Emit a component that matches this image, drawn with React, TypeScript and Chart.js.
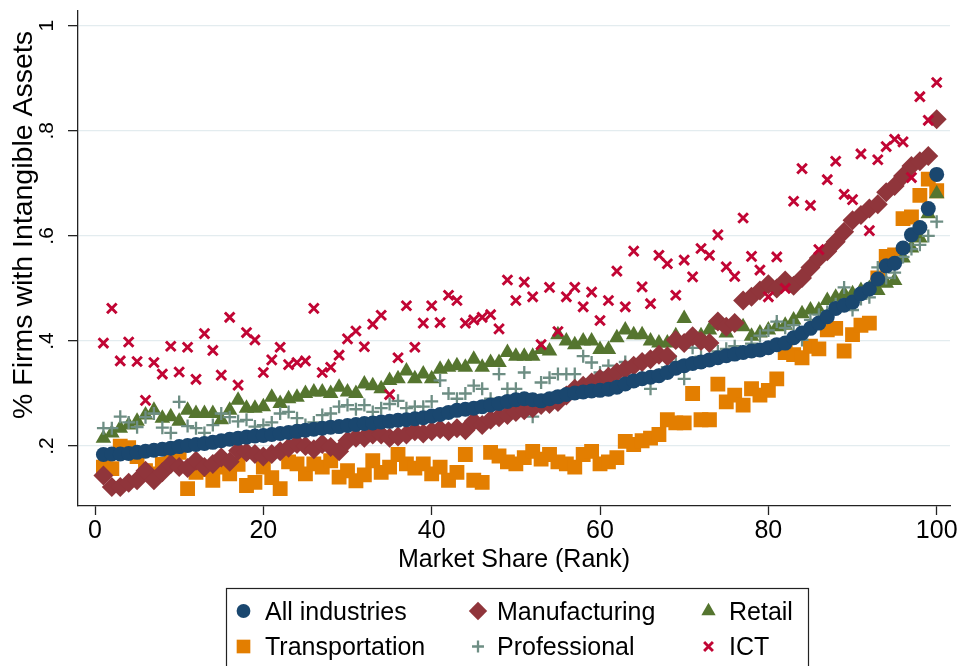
import React, { useEffect, useRef } from 'react';
import { Chart, registerables } from 'chart.js';

Chart.register(...registerables);

const FONT = '"Liberation Sans", Arial, Helvetica, sans-serif';

// ---- data -------------------------------------------------------------
const ranks = [
  1, 2, 3, 4, 5, 6, 7, 8, 9, 10, 11, 12, 13, 14, 15, 16, 17, 18, 19, 20,
  21, 22, 23, 24, 25, 26, 27, 28, 29, 30, 31, 32, 33, 34, 35, 36, 37, 38, 39, 40,
  41, 42, 43, 44, 45, 46, 47, 48, 49, 50, 51, 52, 53, 54, 55, 56, 57, 58, 59, 60,
  61, 62, 63, 64, 65, 66, 67, 68, 69, 70, 71, 72, 73, 74, 75, 76, 77, 78, 79, 80,
  81, 82, 83, 84, 85, 86, 87, 88, 89, 90, 91, 92, 93, 94, 95, 96, 97, 98, 99, 100,
];

const allIndustries = [
  0.184, 0.185, 0.185, 0.186, 0.188, 0.19, 0.192, 0.194, 0.196, 0.199,
  0.201, 0.203, 0.205, 0.207, 0.21, 0.213, 0.215, 0.217, 0.219, 0.22,
  0.222, 0.224, 0.226, 0.228, 0.23, 0.232, 0.234, 0.236, 0.237, 0.239,
  0.241, 0.243, 0.244, 0.246, 0.247, 0.249, 0.25, 0.252, 0.254, 0.257,
  0.26, 0.264, 0.268, 0.27, 0.272, 0.275, 0.278, 0.281, 0.285, 0.288,
  0.29, 0.288, 0.286, 0.29, 0.294, 0.298, 0.301, 0.303, 0.305, 0.306,
  0.308, 0.312, 0.318, 0.324, 0.328, 0.331, 0.334, 0.34, 0.348, 0.353,
  0.357, 0.36, 0.364, 0.368, 0.372, 0.375, 0.378, 0.381, 0.383, 0.387,
  0.393, 0.396, 0.406, 0.415, 0.424, 0.434, 0.446, 0.462, 0.468, 0.474,
  0.49, 0.499, 0.518, 0.543, 0.548, 0.577, 0.602, 0.616, 0.652, 0.717,
];

const manufacturing = [
  0.144, 0.122, 0.122, 0.13, 0.135, 0.153, 0.135, 0.15, 0.166, 0.16,
  0.158, 0.172, 0.16, 0.166, 0.178, 0.17, 0.191, 0.188, 0.185, 0.18,
  0.185, 0.19, 0.197, 0.204, 0.2, 0.194, 0.204, 0.198, 0.19, 0.21,
  0.216, 0.216, 0.222, 0.222, 0.216, 0.218, 0.222, 0.228, 0.224, 0.228,
  0.232, 0.228, 0.234, 0.23, 0.247, 0.24, 0.25, 0.255, 0.259, 0.265,
  0.268, 0.272, 0.278, 0.28, 0.284, 0.296, 0.309, 0.315, 0.321, 0.328,
  0.332, 0.34, 0.346, 0.353, 0.36, 0.365, 0.374, 0.371, 0.402, 0.396,
  0.409, 0.4, 0.396, 0.437, 0.427, 0.434, 0.477, 0.484, 0.496, 0.508,
  0.5, 0.515, 0.505, 0.52, 0.54, 0.558, 0.571, 0.589, 0.608, 0.63,
  0.64, 0.652, 0.66, 0.683, 0.695, 0.714, 0.733, 0.742, 0.752, 0.822,
];

const retail = [
  0.215, 0.225, 0.234, 0.24, 0.247, 0.259, 0.268, 0.253, 0.256, 0.247,
  0.268, 0.262, 0.262, 0.262, 0.25, 0.268, 0.287, 0.272, 0.272, 0.275,
  0.293, 0.281, 0.29, 0.293, 0.3, 0.303, 0.303, 0.3, 0.312, 0.303,
  0.3, 0.318, 0.315, 0.309, 0.325, 0.328, 0.343, 0.328, 0.337, 0.328,
  0.346, 0.35, 0.353, 0.35, 0.365, 0.35, 0.359, 0.359, 0.378, 0.371,
  0.371, 0.371, 0.384, 0.381, 0.412, 0.4, 0.393, 0.4, 0.4, 0.384,
  0.384, 0.406, 0.421, 0.412, 0.412, 0.4, 0.396, 0.396, 0.41, 0.443,
  0.402, 0.41, 0.421, 0.43, 0.415, 0.435, 0.427, 0.409, 0.415, 0.421,
  0.427, 0.43, 0.44, 0.452, 0.459, 0.459, 0.477, 0.483, 0.49, 0.49,
  0.496, 0.5, 0.496, 0.51, 0.515, 0.558, 0.577, 0.596, 0.642, 0.68,
];

const transportation = [
  0.16, 0.157, 0.2, 0.197, 0.18, 0.153, 0.147, 0.165, 0.172, 0.188,
  0.119, 0.15, 0.155, 0.135, 0.16, 0.147, 0.165, 0.125, 0.131, 0.16,
  0.14, 0.119, 0.17, 0.166, 0.147, 0.166, 0.16, 0.172, 0.141, 0.153,
  0.134, 0.145, 0.172, 0.15, 0.16, 0.184, 0.166, 0.158, 0.166, 0.147,
  0.16, 0.135, 0.15, 0.184, 0.135, 0.131, 0.188, 0.181, 0.17, 0.166,
  0.178, 0.19, 0.175, 0.184, 0.17, 0.166, 0.16, 0.184, 0.19, 0.166,
  0.17, 0.178, 0.209, 0.203, 0.21, 0.215, 0.222, 0.25, 0.244, 0.244,
  0.3, 0.25, 0.25, 0.318, 0.284, 0.297, 0.278, 0.309, 0.297, 0.306,
  0.328, 0.378, 0.374, 0.368, 0.39, 0.385, 0.421, 0.424, 0.381, 0.412,
  0.43, 0.434, 0.52, 0.561, 0.564, 0.633, 0.636, 0.677, 0.708, 0.686,
];

const professional = [
  0.234, 0.234, 0.256, 0.245, 0.236, 0.255, 0.262, 0.235, 0.225, 0.284,
  0.238, 0.234, 0.225, 0.24, 0.262, 0.255, 0.247, 0.25, 0.237, 0.24,
  0.245, 0.262, 0.265, 0.253, 0.24, 0.245, 0.259, 0.262, 0.275, 0.278,
  0.27, 0.278, 0.265, 0.272, 0.28, 0.286, 0.272, 0.275, 0.275, 0.285,
  0.325, 0.3, 0.29, 0.3, 0.315, 0.309, 0.29, 0.337, 0.309, 0.309,
  0.34, 0.256, 0.321, 0.33, 0.337, 0.337, 0.337, 0.371, 0.359, 0.34,
  0.353, 0.345, 0.36, 0.35, 0.33, 0.309, 0.335, 0.35, 0.36, 0.328,
  0.387, 0.37, 0.365, 0.38, 0.385, 0.39, 0.38, 0.395, 0.41, 0.42,
  0.437, 0.425, 0.43, 0.402, 0.44, 0.45, 0.455, 0.47, 0.502, 0.459,
  0.48, 0.483, 0.54, 0.52, 0.53, 0.56, 0.575, 0.583, 0.6, 0.627,
];

const ict = [
  0.396, 0.462, 0.362, 0.398, 0.361, 0.287, 0.359, 0.337, 0.39, 0.341,
  0.388, 0.327, 0.414, 0.382, 0.335, 0.445, 0.316, 0.416, 0.402, 0.34,
  0.364, 0.388, 0.355, 0.359, 0.362, 0.462, 0.34, 0.35, 0.373, 0.404,
  0.419, 0.389, 0.432, 0.449, 0.298, 0.368, 0.467, 0.388, 0.434, 0.467,
  0.435, 0.487, 0.477, 0.434, 0.44, 0.445, 0.45, 0.423, 0.516, 0.477,
  0.512, 0.484, 0.393, 0.502, 0.418, 0.484, 0.502, 0.465, 0.493, 0.439,
  0.477, 0.533, 0.465, 0.571, 0.503, 0.471, 0.563, 0.547, 0.487, 0.554,
  0.522, 0.576, 0.563, 0.602, 0.541, 0.523, 0.634, 0.561, 0.535, 0.484,
  0.56, 0.5, 0.666, 0.728, 0.658, 0.574, 0.707, 0.742, 0.679, 0.669,
  0.756, 0.61, 0.745, 0.77, 0.784, 0.779, 0.711, 0.865, 0.82, 0.892,
];

const xTicks = [0, 20, 40, 60, 80, 100];
const yTicks = [0.2, 0.4, 0.6, 0.8, 1];
const yTickLabels = ['.2', '.4', '.6', '.8', '1'];
const xTitle = 'Market Share (Rank)';
const yTitle = '% Firms with Intangible Assets';

// ---- styles -----------------------------------------------------------
type Series = {
  label: string;
  values: number[];
  color: string;
  pointStyle: string;
  radius: number;
  borderWidth: number;
  order: number;
};

const series: Series[] = [
  { label: 'All industries', values: allIndustries, color: '#1a476f', pointStyle: 'circle', radius: 7.5, borderWidth: 0, order: 1 },
  { label: 'Manufacturing', values: manufacturing, color: '#90353b', pointStyle: 'rectRot', radius: 10, borderWidth: 0, order: 2 },
  { label: 'Retail', values: retail, color: '#55752f', pointStyle: 'triangle', radius: 9, borderWidth: 0, order: 4 },
  { label: 'Transportation', values: transportation, color: '#e37e00', pointStyle: 'rect', radius: 10.5, borderWidth: 0, order: 5 },
  { label: 'Professional', values: professional, color: '#6e8e84', pointStyle: 'cross', radius: 6.5, borderWidth: 2.3, order: 3 },
  { label: 'ICT', values: ict, color: '#c10534', pointStyle: 'crossRot', radius: 6.8, borderWidth: 2.9, order: 0 },
];

const legendCols = [243.5, 478, 708.5];
const legendTextX = [265, 497, 729];
const legendRows = [611, 646.5];

function drawMarker(ctx: CanvasRenderingContext2D, s: Series, x: number, y: number) {
  ctx.save();
  ctx.fillStyle = s.color;
  ctx.strokeStyle = s.color;
  ctx.lineWidth = s.borderWidth;
  const r = s.radius * 0.92;
  ctx.beginPath();
  if (s.pointStyle === 'circle') {
    ctx.arc(x, y, r, 0, Math.PI * 2);
    ctx.fill();
  } else if (s.pointStyle === 'rectRot') {
    ctx.moveTo(x - r, y);
    ctx.lineTo(x, y - r);
    ctx.lineTo(x + r, y);
    ctx.lineTo(x, y + r);
    ctx.closePath();
    ctx.fill();
  } else if (s.pointStyle === 'triangle') {
    let a = 0;
    ctx.moveTo(x + Math.sin(a) * r, y - Math.cos(a) * r);
    a += (2 * Math.PI) / 3;
    ctx.lineTo(x + Math.sin(a) * r, y - Math.cos(a) * r);
    a += (2 * Math.PI) / 3;
    ctx.lineTo(x + Math.sin(a) * r, y - Math.cos(a) * r);
    ctx.closePath();
    ctx.fill();
  } else if (s.pointStyle === 'rect') {
    const h = Math.SQRT1_2 * r;
    ctx.rect(x - h, y - h, 2 * h, 2 * h);
    ctx.fill();
  } else if (s.pointStyle === 'cross') {
    ctx.moveTo(x - r, y);
    ctx.lineTo(x + r, y);
    ctx.moveTo(x, y - r);
    ctx.lineTo(x, y + r);
    ctx.stroke();
  } else if (s.pointStyle === 'crossRot') {
    const d = Math.SQRT1_2 * r;
    ctx.moveTo(x - d, y - d);
    ctx.lineTo(x + d, y + d);
    ctx.moveTo(x + d, y - d);
    ctx.lineTo(x - d, y + d);
    ctx.stroke();
  }
  ctx.restore();
}

const customDraw = {
  id: 'customDraw',
  afterDraw(chart: any) {
    const ctx: CanvasRenderingContext2D = chart.ctx;
    const yScale = chart.scales.y;
    ctx.save();
    ctx.fillStyle = '#000';
    ctx.textAlign = 'center';
    ctx.textBaseline = 'alphabetic';
    // rotated y tick labels
    ctx.font = `21px ${FONT}`;
    yTicks.forEach((v, i) => {
      const py = yScale.getPixelForValue(v);
      ctx.save();
      ctx.translate(53, py);
      ctx.rotate(-Math.PI / 2);
      ctx.fillText(yTickLabels[i], 0, 0);
      ctx.restore();
    });
    // y title
    ctx.font = `28.5px ${FONT}`;
    ctx.save();
    ctx.translate(32, 225);
    ctx.rotate(-Math.PI / 2);
    ctx.fillText(yTitle, 0, 0);
    ctx.restore();

    // legend box
    ctx.strokeStyle = '#222';
    ctx.lineWidth = 1.2;
    ctx.strokeRect(226.5, 588.5, 582, 100);
    ctx.font = `25px ${FONT}`;
    ctx.textAlign = 'left';
    ctx.textBaseline = 'alphabetic';
    series.forEach((s, i) => {
      const col = i % 3;
      const row = Math.floor(i / 3);
      drawMarker(ctx, s, legendCols[col], legendRows[row]);
      ctx.fillStyle = '#000';
      ctx.fillText(s.label, legendTextX[col], legendRows[row] + 8.8);
    });
    ctx.restore();
  },
};

export default function App() {
  const ref = useRef<HTMLCanvasElement | null>(null);

  useEffect(() => {
    if (!ref.current) return;
    Chart.defaults.font.family = FONT;
    const datasets = series.map((s) => ({
      label: s.label,
      data: ranks.map((r, i) => ({ x: r, y: s.values[i] })),
      pointStyle: s.pointStyle as any,
      pointRadius: s.radius,
      pointHoverRadius: s.radius,
      backgroundColor: s.color,
      borderColor: s.color,
      pointBorderWidth: s.borderWidth,
      borderWidth: s.borderWidth,
      order: s.order,
      showLine: false,
    }));

    const chart = new Chart(ref.current, {
      type: 'scatter',
      data: { datasets },
      options: {
        responsive: false,
        animation: false,
        events: [],
        layout: { padding: { left: 0, right: 12, top: 2, bottom: 0 } },
        plugins: {
          legend: { display: false },
          tooltip: { enabled: false },
        },
        scales: {
          x: {
            type: 'linear',
            min: -2.02,
            max: 101.58,
            afterBuildTicks: (s: any) => {
              s.ticks = xTicks.map((v) => ({ value: v }));
            },
            afterFit: (s: any) => {
              s.height = 160;
            },
            grid: {
              display: true,
              drawOnChartArea: false,
              drawTicks: true,
              tickLength: 9,
              tickColor: '#222',
              tickWidth: 1.3,
            },
            border: { display: true, color: '#222', width: 1.3 },
            ticks: {
              color: '#000',
              font: { family: FONT, size: 25 },
              padding: 1,
              maxRotation: 0,
              minRotation: 0,
              autoSkip: false,
            },
            title: {
              display: true,
              text: xTitle,
              color: '#000',
              font: { family: FONT, size: 25 },
              padding: { top: 0, bottom: 91 },
            },
          },
          y: {
            type: 'linear',
            min: 0.0859,
            max: 1.029,
            afterBuildTicks: (s: any) => {
              s.ticks = yTicks.map((v) => ({ value: v }));
            },
            afterFit: (s: any) => {
              s.width = 78;
            },
            grid: {
              display: true,
              drawOnChartArea: true,
              drawTicks: true,
              color: '#e3ecef',
              lineWidth: 1.3,
              tickLength: 10,
              tickColor: '#222',
              tickWidth: 1.3,
            },
            border: { display: true, color: '#222', width: 1.3 },
            ticks: { display: false },
          },
        },
      },
      plugins: [customDraw],
    });
    return () => chart.destroy();
  }, []);

  return (
    <div style={{ position: 'absolute', left: 0, top: 0, width: 962, height: 666, background: '#fff' }}>
      <canvas ref={ref} width={962} height={666} style={{ display: 'block' }} />
    </div>
  );
}
